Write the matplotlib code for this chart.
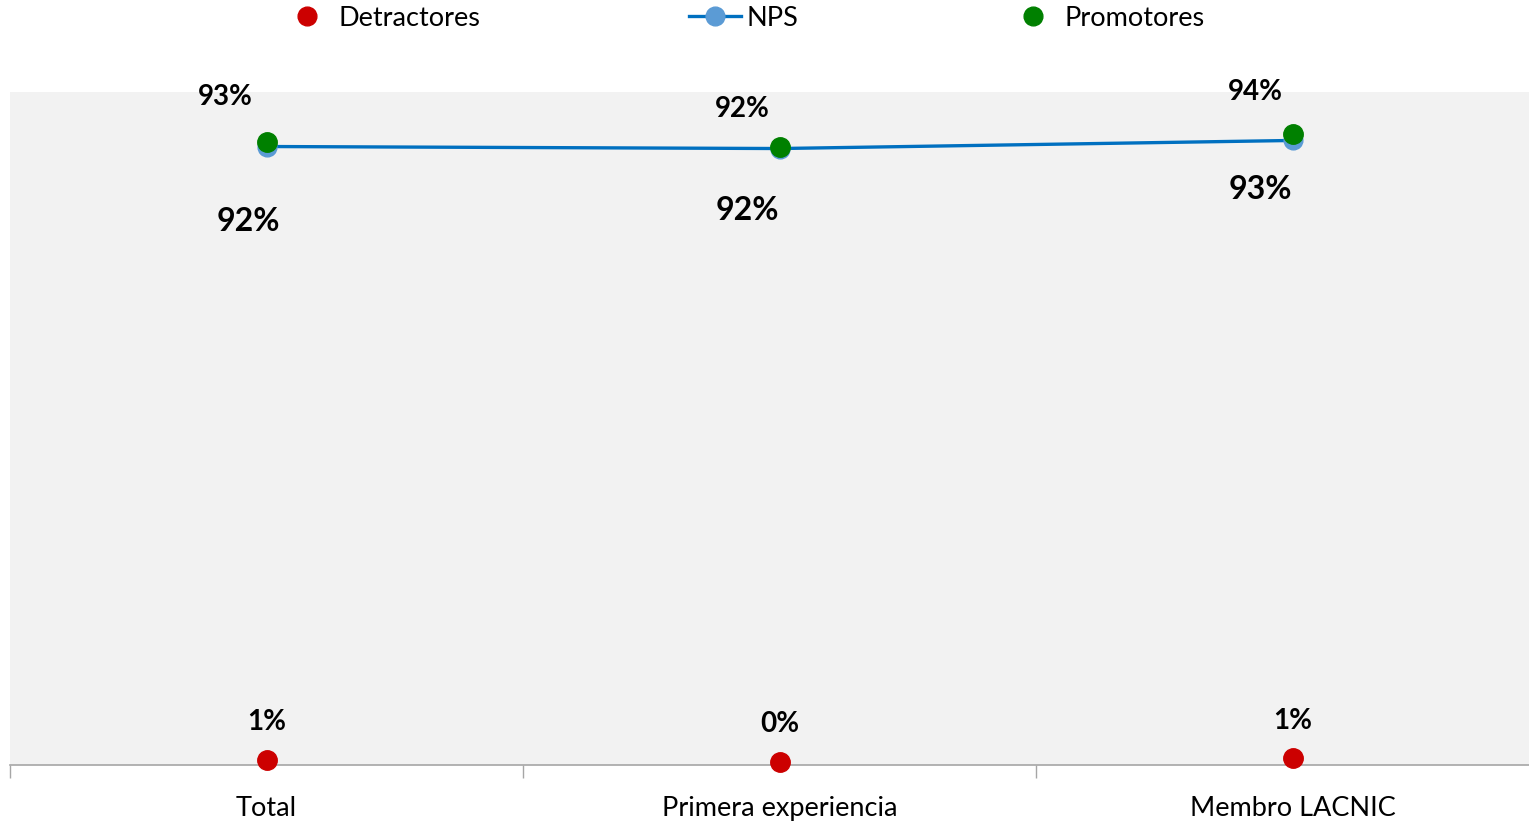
import matplotlib
matplotlib.use("Agg")
import matplotlib.pyplot as plt
from matplotlib.lines import Line2D

plt.rcParams['font.family'] = ['Lato', 'DejaVu Sans']

categories = ["Total", "Primera experiencia", "Membro LACNIC"]
detractores = [0.007, 0.004, 0.010]
nps = [0.919, 0.916, 0.928]
promotores = [0.926, 0.918, 0.938]
det_labels = ["1%", "0%", "1%"]
nps_labels = ["92%", "92%", "93%"]
pro_labels = ["93%", "92%", "94%"]

# label offsets in pixels (layout)
pro_off = [(-41, 45), (-37, 38), (-37, 42)]
nps_off = [(-18, -75), (-32, -62), (-32, -49)]
det_off = [(0, 38), (0, 38), (0, 37)]

W, H = 1529, 823
fig = plt.figure(figsize=(W / 100, H / 100), dpi=100)
ax = fig.add_axes([10 / W, (H - 765) / H, 1539 / W, (765 - 92) / H])
ax.set_facecolor('#F2F2F2')

x = list(range(len(categories)))
ax.plot(x, nps, color='#0070C0', lw=2.4, marker='o', ms=13.5,
        mfc='#5B9BD5', mec='#5B9BD5', zorder=3, clip_on=False)
ax.plot(x, promotores, ls='none', marker='o', ms=14,
        mfc='#008000', mec='#008000', zorder=4, clip_on=False)
ax.plot(x, detractores, ls='none', marker='o', ms=14,
        mfc='#CC0000', mec='#CC0000', zorder=4, clip_on=False)

px = 72 / 100  # pixels -> points
for i in x:
    ax.annotate(pro_labels[i], (i, promotores[i]),
                xytext=(pro_off[i][0] * px, pro_off[i][1] * px), textcoords='offset points',
                ha='center', va='center', fontsize=20, fontweight='bold')
    ax.annotate(nps_labels[i], (i, nps[i]),
                xytext=(nps_off[i][0] * px, nps_off[i][1] * px), textcoords='offset points',
                ha='center', va='center', fontsize=23, fontweight='bold')
    ax.annotate(det_labels[i], (i, detractores[i]),
                xytext=(det_off[i][0] * px, det_off[i][1] * px), textcoords='offset points',
                ha='center', va='center', fontsize=20, fontweight='bold')

ax.set_xlim(-0.5, 2.5)
ax.set_ylim(0, 1.0)
ax.set_yticks([])
ax.set_xticks([-0.5, 0.5, 1.5, 2.5], minor=False)
ax.set_xticklabels([])
ax.set_xticks(x, minor=True)
ax.set_xticklabels(categories, minor=True, fontsize=19.5)
ax.tick_params(axis='x', which='major', length=9, color='#A6A6A6', width=1)
ax.tick_params(axis='x', which='minor', length=0, pad=22.5)
for s in ['top', 'right', 'left']:
    ax.spines[s].set_visible(False)
ax.spines['bottom'].set_color('#A6A6A6')
ax.spines['bottom'].set_linewidth(1.2)

handles = [
    Line2D([], [], ls='none', marker='o', ms=13.5, mfc='#CC0000', mec='#CC0000'),
    Line2D([], [], color='#0070C0', lw=2.4, marker='o', ms=13.5, mfc='#5B9BD5', mec='#5B9BD5'),
    Line2D([], [], ls='none', marker='o', ms=13.5, mfc='#008000', mec='#008000'),
]
fig.legend(handles, ["Detractores", "NPS", "Promotores"], ncol=3, frameon=False,
           loc='center', bbox_to_anchor=(743 / W, 1 - 18 / H), fontsize=19.5,
           handlelength=1.9, handletextpad=0.22, columnspacing=7.7,
           borderpad=0, borderaxespad=0)

fig.savefig("out.png", dpi=100)
